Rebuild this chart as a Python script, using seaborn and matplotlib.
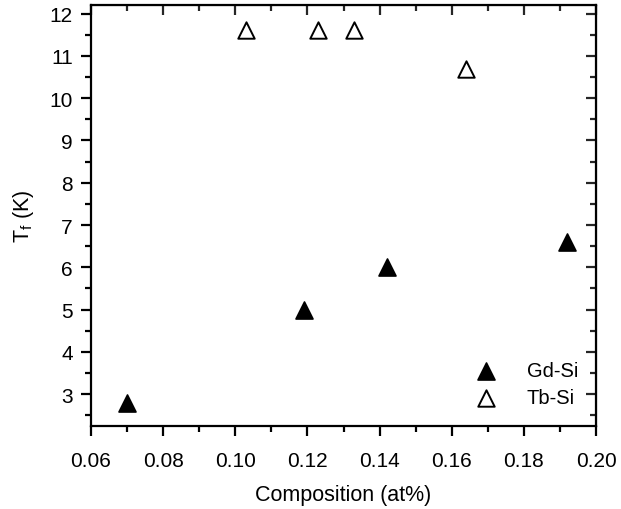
import numpy as np
import pandas as pd
import matplotlib
matplotlib.use('Agg')
import matplotlib.pyplot as plt
import seaborn as sns

# Gd-Si and Tb-Si freezing temperatures
gd_x = [0.070, 0.119, 0.142, 0.192]
gd_y = [2.8, 5.0, 6.0, 6.6]
tb_x = [0.103, 0.123, 0.133, 0.164]
tb_y = [11.6, 11.6, 11.6, 10.7]

df = pd.concat([
    pd.DataFrame({'x': gd_x, 'y': gd_y, 'series': 'Gd-Si'}),
    pd.DataFrame({'x': tb_x, 'y': tb_y, 'series': 'Tb-Si'}),
], ignore_index=True)

sns.set_style('ticks')
plt.rcParams['font.family'] = ['Liberation Sans', 'DejaVu Sans']
plt.rcParams['text.color'] = 'black'
plt.rcParams['axes.labelcolor'] = 'black'

fig = plt.figure(figsize=(6.21, 5.10), dpi=100)
ax = fig.add_axes([0.1465, 0.163, 0.8135, 0.825])

sns.scatterplot(data=df[df.series == 'Gd-Si'], x='x', y='y', ax=ax, marker='^',
                s=150, color='black', edgecolor='black', linewidth=1.2, label='Gd-Si')
sns.scatterplot(data=df[df.series == 'Tb-Si'], x='x', y='y', ax=ax, marker='^',
                s=140, facecolor='white', edgecolor='black', linewidth=1.4, label='Tb-Si')

xmaj = np.arange(0.06, 0.201, 0.02)
xmin = np.arange(0.07, 0.20, 0.02)
ymaj = range(3, 13)
ymin = np.arange(2.5, 12.2, 1.0)

ax.set_xlim(0.06, 0.20)
ax.set_ylim(2.25, 12.2)
ax.set_xticks(xmaj)
ax.set_xticks(xmin, minor=True)
ax.set_yticks(ymaj)
ax.set_yticks(ymin, minor=True)
ax.xaxis.set_major_formatter(plt.FormatStrFormatter('%.2f'))

for s in ax.spines.values():
    s.set_linewidth(1.6)
    s.set_color('black')
ax.tick_params(which='both', direction='out', width=1.6, labelsize=15, colors='black')
ax.tick_params(which='major', length=7, pad=6)
ax.tick_params(axis='x', which='major', pad=11)
ax.tick_params(which='minor', length=4.5)

# inward ticks on top and right
top = ax.secondary_xaxis('top')
top.set_xticks(xmaj)
top.set_xticks(xmin, minor=True)
top.tick_params(which='both', direction='in', width=1.6, labeltop=False)
top.tick_params(which='major', length=7)
top.tick_params(which='minor', length=4)
right = ax.secondary_yaxis('right')
right.set_yticks(ymaj)
right.set_yticks(ymin, minor=True)
right.tick_params(which='both', direction='in', width=1.6, labelright=False)
right.tick_params(which='major', length=7)
right.tick_params(which='minor', length=4)

ax.set_xlabel('Composition (at%)', fontsize=15.5, labelpad=10)
ax.set_ylabel('T$_\\mathregular{f}$ (K)', fontsize=15.5, labelpad=10)

ax.legend(loc='lower right', frameon=False, fontsize=14.5, handletextpad=1.0,
          labelspacing=0.4, borderaxespad=0.0, bbox_to_anchor=(0.98, 0.025))

fig.savefig('out.png', dpi=100)
